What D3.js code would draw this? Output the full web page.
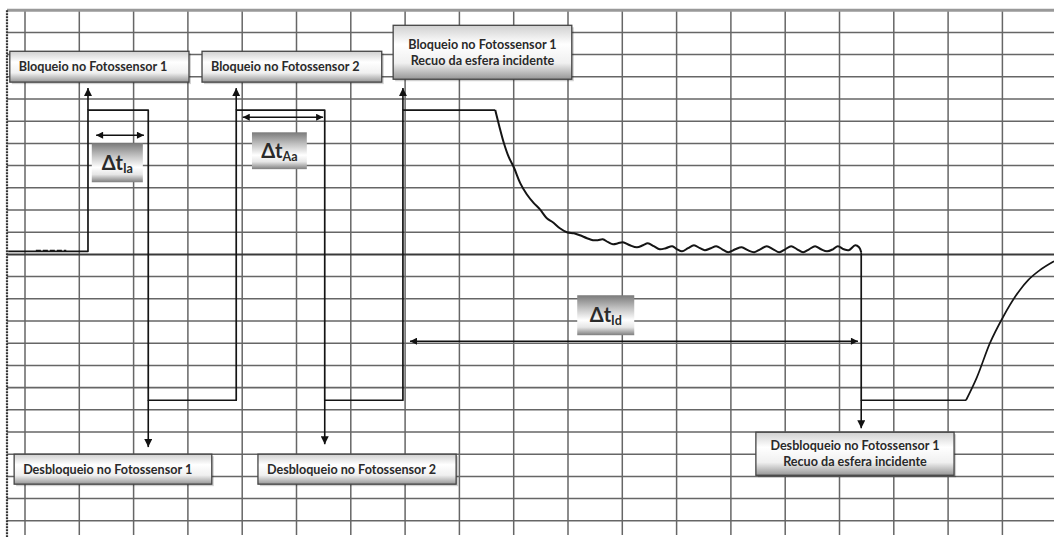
<!DOCTYPE html>
<html>
<head>
<meta charset="utf-8">
<script src="https://cdn.jsdelivr.net/npm/d3@7"></script>
<style>
  html, body { margin: 0; padding: 0; background: #fff; }
  svg { display: block; }
  .lbl { font-family: Lato, "Open Sans", sans-serif; font-weight: 700; fill: #2a2a2a; }
</style>
</head>
<body>
<svg id="chart" width="1054" height="537"></svg>
<script>
// ---------------- DATA (grid divisions) ----------------
// pulse train (time in divisions, level in divisions)
const pulseTime  = [-0.31, 1.16, 1.16, 2.27, 2.27, 3.89, 3.89, 5.52, 5.52, 6.96, 6.96, 8.66];
const pulseLevel = [ 0.14, 0.14, 6.5,  6.5, -6.57, -6.57, 6.5, 6.5, -6.57, -6.57, 6.5, 6.5];

// decay with ripple after recoil
const decayTime  = [8.66, 8.73, 8.82, 8.91, 9.01, 9.12, 9.24, 9.37, 9.48, 9.61, 9.72, 9.85, 9.98, 10.11, 10.22, 10.35, 10.46, 10.55, 10.64, 10.74, 10.83, 10.92, 11.01, 11.14, 11.27, 11.38, 11.47, 11.58, 11.69, 11.80, 11.92, 12.01, 12.10, 12.21, 12.32, 12.43, 12.52, 12.63, 12.73, 12.84, 12.95, 13.08, 13.20, 13.31, 13.43, 13.54, 13.66, 13.78, 13.89, 14.00, 14.11, 14.22, 14.33, 14.44, 14.55, 14.66, 14.77, 14.88, 14.97, 15.08, 15.17, 15.29, 15.36, 15.40];
const decayLevel = [6.5, 5.82, 5.01, 4.38, 3.88, 3.21, 2.71, 2.31, 2.04, 1.63, 1.45, 1.18, 1.00, 0.95, 0.86, 0.73, 0.64, 0.64, 0.68, 0.55, 0.46, 0.50, 0.55, 0.41, 0.32, 0.41, 0.50, 0.37, 0.23, 0.28, 0.37, 0.23, 0.14, 0.28, 0.41, 0.28, 0.19, 0.28, 0.37, 0.23, 0.10, 0.23, 0.32, 0.19, 0.10, 0.23, 0.37, 0.23, 0.10, 0.23, 0.37, 0.23, 0.10, 0.23, 0.37, 0.23, 0.14, 0.23, 0.37, 0.23, 0.19, 0.41, 0.32, 0.10];

// release and final rise
const releaseTime  = [15.40, 15.40, 17.33];
const releaseLevel = [0.10, -6.57, -6.57];
const riseTime  = [17.33, 17.53, 17.77, 18.01, 18.32, 18.47, 18.69, 18.95];
const riseLevel = [-6.57, -5.54, -4.00, -2.83, -1.61, -1.17, -0.71, -0.31];

// grid ticks
const xTicks = d3.range(0, 19);      // vertical grid lines
const yTicks = d3.range(-12, 12);    // horizontal grid lines

// event annotations
const upArrowTime   = [1.16, 3.89, 6.96];
const upArrowTip    = [7.49, 7.49, 7.49];
const downArrowTime = [2.27, 5.52, 15.40];
const downArrowTip  = [-8.68, -8.55, -7.83];

const eventLabels = [
  ["Bloqueio no Fotossensor 1"],
  ["Bloqueio no Fotossensor 2"],
  ["Bloqueio no Fotossensor 1", "Recuo da esfera incidente"],
  ["Desbloqueio no Fotossensor 1"],
  ["Desbloqueio no Fotossensor 2"],
  ["Desbloqueio no Fotossensor 1", "Recuo da esfera incidente"]
];
const intervalNames = ["Ia", "Aa", "Id"];
const intervalStart = [1.31, 4.01, 7.09];
const intervalEnd   = [2.19, 5.49, 15.34];
const intervalLevel = [5.37, 6.18, -3.91];

// ---------------- LAYOUT ----------------
const W = 1054, H = 537;
const x = d3.scaleLinear().domain([0, 18]).range([25, 1002.4]);
const y = d3.scaleLinear().domain([-12, 11]).range([520.8, 10.2]);

// label boxes (in data units): [t0, t1, vTop, vBottom, align]
const labelBoxes = [
  [-0.28, 3.02, 9.15, 7.76, "start"],
  [3.26, 6.57, 9.15, 7.76, "start"],
  [6.78, 10.07, 10.32, 7.89, "middle"],
  [-0.20, 3.44, -9.00, -10.35, "start"],
  [4.29, 7.94, -9.00, -10.35, "start"],
  [13.46, 17.11, -8.01, -9.95, "middle"]
];
const intervalBoxes = [
  [1.23, 2.17, 5.01, 3.25],
  [4.18, 5.19, 5.50, 3.84],
  [10.17, 11.22, -1.84, -3.64]
];

const svg = d3.select("#chart");
const defs = svg.append("defs");

const g1 = defs.append("linearGradient").attr("id", "boxGrad").attr("x1", 0).attr("y1", 0).attr("x2", 0).attr("y2", 1);
g1.append("stop").attr("offset", "0%").attr("stop-color", "#d0d0d0");
g1.append("stop").attr("offset", "35%").attr("stop-color", "#ffffff");
g1.append("stop").attr("offset", "70%").attr("stop-color", "#f0f0f0");
g1.append("stop").attr("offset", "100%").attr("stop-color", "#969696");

const g2 = defs.append("linearGradient").attr("id", "dtGrad").attr("x1", 0).attr("y1", 0).attr("x2", 0).attr("y2", 1);
g2.append("stop").attr("offset", "0%").attr("stop-color", "#7a7a7a");
g2.append("stop").attr("offset", "30%").attr("stop-color", "#bdbdbd");
g2.append("stop").attr("offset", "62%").attr("stop-color", "#ffffff");
g2.append("stop").attr("offset", "80%").attr("stop-color", "#e6e6e6");
g2.append("stop").attr("offset", "100%").attr("stop-color", "#7e7e7e");

defs.append("marker").attr("id", "arr")
  .attr("viewBox", "0 0 10 10").attr("refX", 10).attr("refY", 5)
  .attr("markerWidth", 10).attr("markerHeight", 8).attr("markerUnits", "userSpaceOnUse")
  .attr("orient", "auto-start-reverse")
  .append("path").attr("d", "M0,0 L10,5 L0,10 Z").attr("fill", "#111");

defs.append("marker").attr("id", "arrB")
  .attr("viewBox", "0 0 10 10").attr("refX", 10).attr("refY", 5)
  .attr("markerWidth", 13).attr("markerHeight", 7).attr("markerUnits", "userSpaceOnUse")
  .attr("orient", "auto-start-reverse")
  .append("path").attr("d", "M0,0 L10,5 L0,10 Z").attr("fill", "#111");

svg.append("rect").attr("width", W).attr("height", H).attr("fill", "#fff");

// grid
const grid = svg.append("g");
grid.selectAll("line.v").data(xTicks).join("line")
  .attr("x1", d => x(d)).attr("x2", d => x(d))
  .attr("y1", y(11)).attr("y2", H - 2)
  .attr("stroke", "#666").attr("stroke-width", 1.5);
grid.selectAll("line.h").data(yTicks.filter(d => d < 11)).join("line")
  .attr("x1", 7).attr("x2", W)
  .attr("y1", d => y(d)).attr("y2", d => y(d))
  .attr("stroke", d => d === 0 ? "#3a3a3a" : "#666")
  .attr("stroke-width", d => d === 0 ? 2 : (d === -6 ? 1.9 : 1.5));
// top border
grid.append("line").attr("x1", 7).attr("x2", W).attr("y1", y(11)).attr("y2", y(11))
  .attr("stroke", "#999").attr("stroke-width", 3);
// left border
grid.append("line").attr("x1", 7).attr("x2", 7).attr("y1", y(11)).attr("y2", H)
  .attr("stroke", "#333").attr("stroke-width", 2.2).attr("stroke-dasharray", "2,1");

// trace
const zip = (a, b) => a.map((d, i) => [d, b[i]]);
const lin = d3.line().x(d => x(d[0])).y(d => y(d[1]));
const smooth = d3.line().x(d => x(d[0])).y(d => y(d[1])).curve(d3.curveCatmullRom.alpha(0.5));
const mono = d3.line().x(d => x(d[0])).y(d => y(d[1])).curve(d3.curveMonotoneX);
const tr = svg.append("g").attr("fill", "none").attr("stroke", "#151515").attr("stroke-width", 1.7)
  .attr("stroke-linejoin", "round");
tr.append("path").attr("d", lin(zip(pulseTime, pulseLevel)));
tr.append("path").attr("d", smooth(zip(decayTime, decayLevel))).attr("stroke-width", 2);
tr.append("path").attr("d", lin(zip(releaseTime, releaseLevel)));
tr.append("path").attr("d", mono(zip(riseTime, riseLevel)));
// small dashed artifact on the baseline
tr.append("path").attr("d", lin([[0.2, 0.16], [0.76, 0.16]])).attr("stroke-dasharray", "5,2").attr("stroke-width", 2.2);

// event arrows
const arrows = svg.append("g").attr("stroke", "#111").attr("stroke-width", 1.6).attr("fill", "none");
upArrowTime.forEach((t, i) => {
  arrows.append("line").attr("x1", x(t)).attr("x2", x(t)).attr("y1", y(6.5)).attr("y2", y(upArrowTip[i]))
    .attr("marker-end", "url(#arr)");
});
downArrowTime.forEach((t, i) => {
  arrows.append("line").attr("x1", x(t)).attr("x2", x(t)).attr("y1", y(-6.57)).attr("y2", y(downArrowTip[i]))
    .attr("marker-end", "url(#arr)");
});
intervalStart.forEach((t, i) => {
  arrows.append("line").attr("x1", x(t)).attr("x2", x(intervalEnd[i]))
    .attr("y1", y(intervalLevel[i])).attr("y2", y(intervalLevel[i]))
    .attr("stroke-width", 1.5)
    .attr("marker-start", "url(#arrB)").attr("marker-end", "url(#arrB)");
});

// label boxes
labelBoxes.forEach((b, i) => {
  const [t0, t1, v0, v1, align] = b;
  const bx = x(t0), bw = x(t1) - x(t0), by = y(v0), bh = y(v1) - y(v0);
  const g = svg.append("g");
  g.append("rect").attr("x", bx + 2).attr("y", by + 2).attr("width", bw).attr("height", bh)
    .attr("fill", "#000").attr("opacity", 0.18);
  g.append("rect").attr("x", bx).attr("y", by).attr("width", bw).attr("height", bh)
    .attr("fill", "url(#boxGrad)").attr("stroke", "#444").attr("stroke-width", 1.3);
  const lines = eventLabels[i];
  const cy = by + bh / 2;
  const lh = 16;
  lines.forEach((txt, j) => {
    const ty = cy + (j - (lines.length - 1) / 2) * lh;
    g.append("text").attr("class", "lbl")
      .attr("x", align === "middle" ? bx + bw / 2 : bx + 9)
      .attr("y", ty).attr("dy", "0.35em")
      .attr("text-anchor", align)
      .attr("font-size", 12.6)
      .text(txt);
  });
});

// interval boxes
intervalBoxes.forEach((b, i) => {
  const [t0, t1, v0, v1] = b;
  const bx = x(t0), bw = x(t1) - x(t0), by = y(v0), bh = y(v1) - y(v0);
  const g = svg.append("g");
  g.append("rect").attr("x", bx).attr("y", by).attr("width", bw).attr("height", bh)
    .attr("fill", "url(#dtGrad)");
  const t = g.append("text").attr("class", "lbl")
    .attr("x", bx + bw / 2).attr("y", by + bh / 2 + 7)
    .attr("text-anchor", "middle").attr("fill", "#1a1a1a");
  t.append("tspan").attr("font-size", 20).text("\u0394t");
  t.append("tspan").attr("font-size", 12.5).attr("dy", 3).text(intervalNames[i]);
});
</script>
</body>
</html>
